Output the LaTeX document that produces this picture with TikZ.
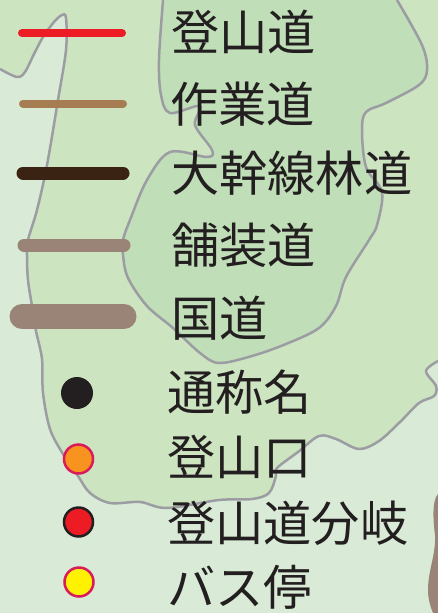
\documentclass[tikz,border=0pt]{standalone}
\usepackage{fontspec}
\newfontfamily\jpfont{Noto Sans CJK JP}
\definecolor{bgA}{HTML}{D9EBD6}
\definecolor{bgB}{HTML}{CDE4C1}
\definecolor{bgC}{HTML}{C0DEB7}
\definecolor{contour}{HTML}{9C9CA3}
\definecolor{road}{HTML}{9A8478}
\definecolor{ink}{HTML}{231F20}
\definecolor{magentaedge}{HTML}{D91B5C}
\definecolor{trailred}{HTML}{ED1C24}
\definecolor{workroad}{HTML}{A67C52}
\definecolor{forestroad}{HTML}{3B2314}
\tikzset{
  lbl/.style={anchor=west,inner sep=0pt,font=\jpfont\fontsize{48.2}{48.2}\selectfont,text=ink},
  edgeline/.style={draw=contour,line width=2.5pt,line join=round},
  legendline/.style={line cap=round},
  dot/.style={circle,inner sep=0pt,minimum size=#1}
}
\def\midcurve{(0,69) (17,77) (25,72) (34,54) (43,37) (54,22) (62,15) (66,18) (66,50) (58,100) (47,165) (37,210) (28,240) (27,255) (28,280) (32,306) (36,331) (42,359) (43,393) (50,429) (63,454) (78,476) (90,493) (110,503) (140,502) (167,508) (219,500) (252,499) (269,493) (276,476) (277,468) (298,452) (319,436) (336,439) (359,449) (379,441) (400,422) (419,403) (434,396) (436,386) (426,371) (438,361)}
\def\darkcurve{(163,0) (159,60) (161,95) (170,113) (200,106) (195,125) (212,150) (207,157) (170,152) (147,180) (130,220) (123,240) (123,255) (128,278) (147,306) (173,328) (200,353) (219,363) (252,356) (286,344) (319,328) (336,306) (346,277) (369,240) (377,225) (382,192) (366,167) (362,130) (366,112) (386,103) (419,85) (427,70) (422,45) (397,0)}
\begin{document}
\begin{tikzpicture}[x=1pt,y=-1pt]
\useasboundingbox (0,0) rectangle (438,613);
\fill[bgA] (0,0) rectangle (438,613);
\fill[bgB] plot[smooth,tension=0.55] coordinates {\midcurve} -- (438,0) -- (0,0) -- cycle;
\fill[bgC] plot[smooth,tension=0.55] coordinates {\darkcurve} -- cycle;
\draw[edgeline] plot[smooth,tension=0.55] coordinates {\midcurve};
\draw[edgeline] plot[smooth,tension=0.55] coordinates {\darkcurve};
\fill[road] (438,494) .. controls (432,500) and (433,520) .. (435,535) .. controls (436,555) and (428,570) .. (428,590) .. controls (428,600) and (431,608) .. (433,613) -- (438,613) -- cycle;
\draw[legendline,color=trailred,line width=8pt] (22,33) -- (122,33);
\draw[legendline,color=workroad,line width=8pt] (23,103.5) -- (123,103.5);
\draw[legendline,color=forestroad,line width=13pt] (23,173) -- (123,173);
\draw[legendline,color=road,line width=13pt] (24,245) -- (124,245);
\draw[legendline,color=road,line width=25pt] (22,316.5) -- (124,316.5);
\node[dot=32pt,fill=ink] (d1) at (77,393) {};
\node[dot=29pt,fill={rgb,255:red,247;green,147;blue,30},draw=magentaedge,line width=2.5pt] (d2) at (78.5,459) {};
\node[dot=29pt,fill=trailred,draw=ink,line width=2.5pt] (d3) at (78.5,522) {};
\node[dot=29pt,fill={rgb,255:red,255;green,242;blue,0},draw=magentaedge,line width=2.5pt] (d4) at (79,582) {};
\node[lbl] (t1) at (171,32) {登山道};
\node[lbl] (t2) at (170,104) {作業道};
\node[lbl] (t3) at (171,173) {大幹線林道};
\node[lbl] (t4) at (171,245) {舗装道};
\node[lbl] (t5) at (171,318) {国道};
\node[lbl] (t6) at (167,392.5) {通称名};
\node[lbl] (t7) at (167,456.5) {登山口};
\node[lbl] (t8) at (167,523) {登山道分岐};
\node[lbl] (t9) at (167,587) {バス停};
\end{tikzpicture}
\end{document}
